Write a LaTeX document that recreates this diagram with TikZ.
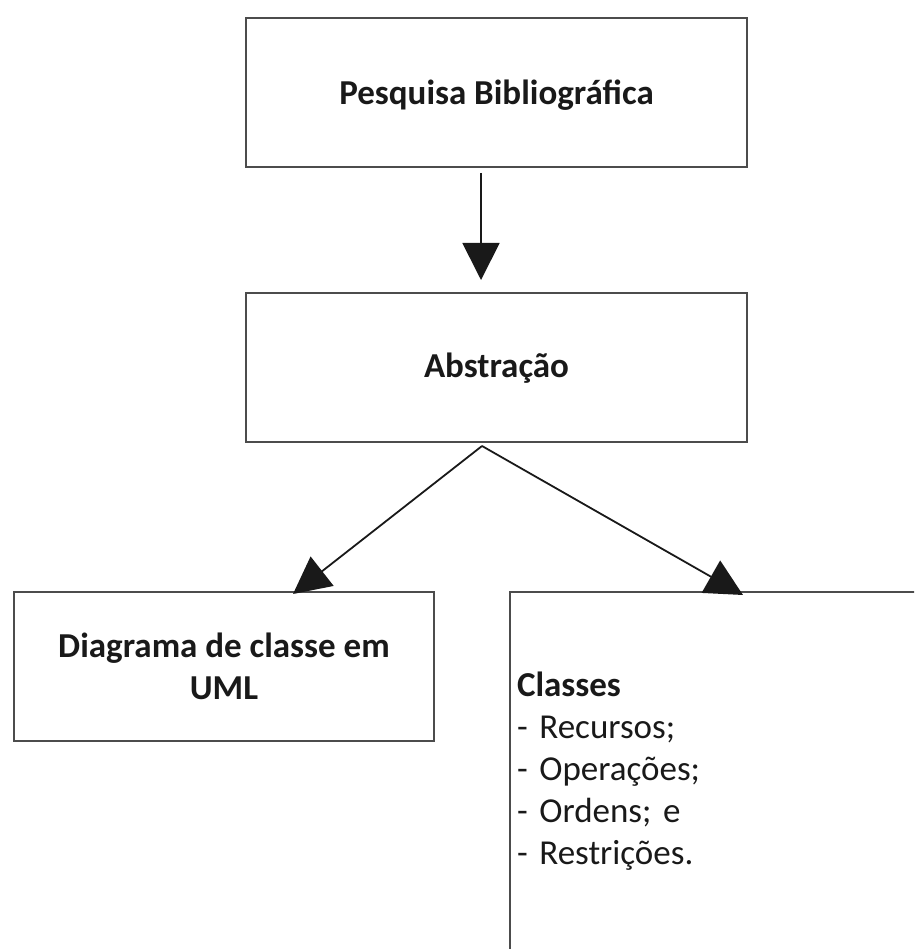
\documentclass[tikz,border=0pt]{standalone}
\usepackage{fontspec}
\setmainfont{Carlito}
\usetikzlibrary{arrows.meta}
\begin{document}
\frenchspacing
\begin{tikzpicture}[x=1pt,y=-1pt,
  box/.style={draw=black!70, line width=1.8pt, rectangle, inner sep=0pt, outer sep=0pt,
    font=\fontsize{35}{42}\selectfont, text=black!90, align=center},
  arr/.style={draw=black!90, line width=1.8pt, -{Triangle[length=37pt,width=37pt]}}]
\useasboundingbox (0,0) rectangle (914,949);
\clip (0,0) rectangle (914,949);
\node[box, minimum width=501pt, minimum height=149pt, text height=32pt, text depth=7pt] (b1) at (496.5,92.5) {\bfseries Pesquisa Bibliográfica};
\node[box, minimum width=501pt, minimum height=149pt, text height=28pt, text depth=9pt] (b2) at (496.5,367.5) {\bfseries Abstração};
\node[box, minimum width=420pt, minimum height=149pt] (b3) at (224,666.5) {\bfseries Diagrama de classe em\\\bfseries UML};
\node[box, anchor=north west, minimum height=357.5pt, text width=486pt, inner xsep=7pt, align=left] (b4) at (510,592)
  {{\bfseries Classes}\\- Recursos;\\- Operações;\\- Ordens; e\\- Restrições.};
\draw[arr] ([xshift=-15.5pt,yshift=-6pt]b1.south) -- ([xshift=-15.5pt,yshift=13pt]b2.north);
\draw[arr] ([xshift=-14.5pt,yshift=-4pt]b2.south) -- ([xshift=69pt,yshift=-2pt]b3.north);
\draw[arr] ([xshift=-14.5pt,yshift=-4pt]b2.south) -- ([xshift=233pt,yshift=-3pt]b4.north west);
\end{tikzpicture}
\end{document}
